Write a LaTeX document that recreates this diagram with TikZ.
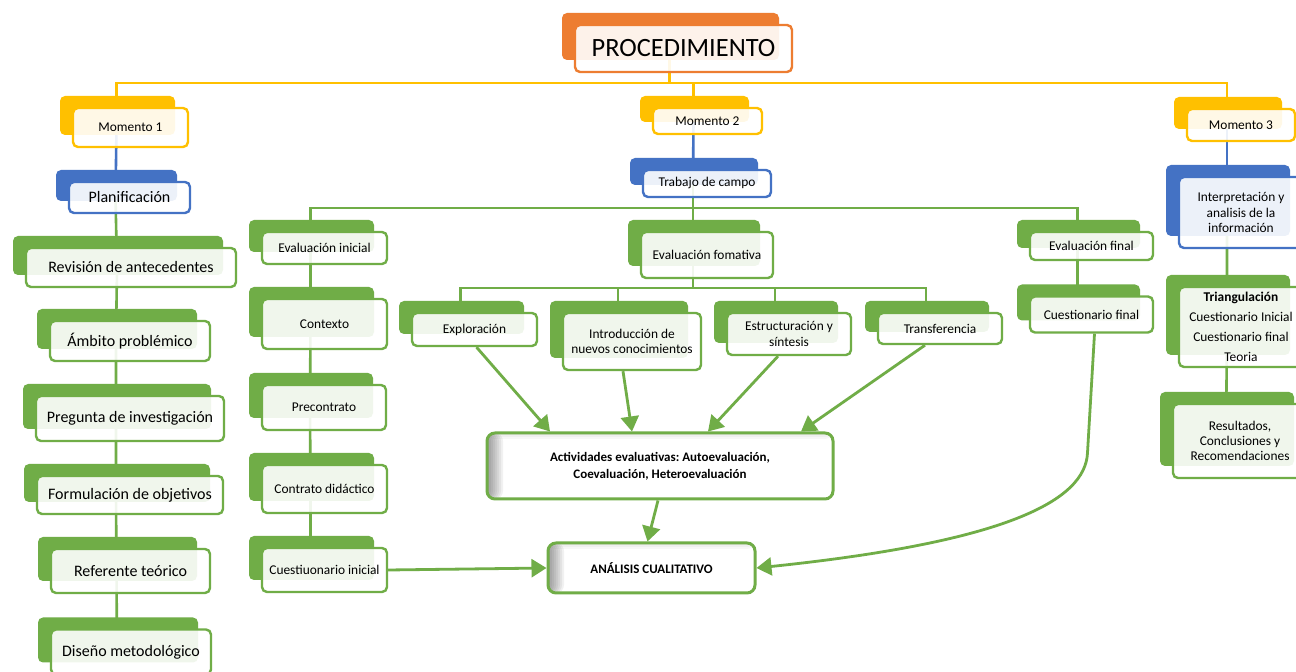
\documentclass[tikz,border=0pt]{standalone}
\usepackage{fontspec}
\setmainfont{Carlito}
\usetikzlibrary{arrows.meta,shadows,backgrounds}
\definecolor{orangeo}{HTML}{ED7D31}
\definecolor{goldo}{HTML}{FFC000}
\definecolor{blueo}{HTML}{4472C4}
\definecolor{greeno}{HTML}{70AD47}
\tikzset{
  tag/.style={draw=#1, line width=1.2pt, rounded corners=2.5pt, fill=white, fill opacity=0.9,
    text opacity=1, align=center, inner sep=1pt,
    copy shadow={shadow xshift=-6.5pt, shadow yshift=6pt, fill=#1, draw=none, fill opacity=1}},
  small/.style={font=\fontsize{6.7}{7.6}\selectfont},
  big/.style={font=\fontsize{8}{9.5}\selectfont},
  link/.style={draw=#1, line width=1.3pt},
  arr/.style={draw=greeno, line width=1.4pt, -{Triangle[length=7.5pt,width=9pt]}},
  sumbox/.style={draw=greeno, line width=1.5pt, rounded corners=4pt, fill=white, align=center,
    font=\frenchspacing\bfseries\fontsize{6.5}{8.5}\selectfont,
    path picture={
      \foreach \i in {1,...,8}
        \fill [black, opacity=0.055] (path picture bounding box.north west) rectangle ([xshift=\i pt]path picture bounding box.south west);
      \foreach \i in {1,...,3}
        \fill [black, opacity=0.03] (path picture bounding box.north west) rectangle ([yshift=-\i pt]path picture bounding box.north east);
    }}
}
\begin{document}
\begin{tikzpicture}[x=0.5pt, y=-0.5pt]
  \useasboundingbox (0,0) rectangle (1296,672);
  \clip (0,0) rectangle (1296,672);

  \node [tag=orangeo, font=\fontsize{13.2}{15}\selectfont, minimum width=108.5pt, minimum height=23.5pt] (proc) at (683.5,48.5) {PROCEDIMIENTO};

  \node [tag=goldo, small, minimum width=57.5pt, minimum height=19.5pt] (m1) at (130.5,127.5) {Momento 1};
  \node [tag=goldo, small, minimum width=54.5pt, minimum height=13pt] (m2) at (707.5,121) {Momento 2};
  \node [tag=goldo, small, minimum width=54pt, minimum height=16pt] (m3) at (1241,125) {Momento 3};

  \node [tag=blueo, big, minimum width=60.5pt, minimum height=15.5pt] (plan) at (129.5,197.5) {Planificación};
  \node [tag=blueo, small, minimum width=64pt, minimum height=13.5pt] (campo) at (707,183.5) {Trabajo de campo};
  \node [tag=blueo, small, minimum width=62pt, minimum height=35.5pt] (interp) at (1241,212.5) {Interpretación y\\analisis de la\\información};

  \node [tag=greeno, big, minimum width=105pt, minimum height=19.5pt] (revis) at (131,267.5) {Revisión de antecedentes};
  \node [tag=greeno, big, minimum width=80pt, minimum height=20pt] (ambito) at (130,341) {Ámbito problémico};
  \node [tag=greeno, big, minimum width=94pt, minimum height=22.5pt] (preg) at (130,418.5) {Pregunta de investigación};
  \node [tag=greeno, big, minimum width=93pt, minimum height=19pt] (formul) at (130,495) {Formulación de objetivos};
  \node [tag=greeno, big, minimum width=79.5pt, minimum height=22pt] (refer) at (130.5,571) {Referente teórico};
  \node [tag=greeno, big, minimum width=80pt, minimum height=22.5pt] (diseno) at (131,652) {Diseño metodológico};

  \node [tag=greeno, small, minimum width=62.5pt, minimum height=16pt] (ein) at (324.5,248) {Evaluación inicial};
  \node [tag=greeno, small, minimum width=62.5pt, minimum height=25pt] (ctx) at (324.5,324) {Contexto};
  \node [tag=greeno, small, minimum width=62pt, minimum height=22.5pt] (pre) at (324,407.5) {Precontrato};
  \node [tag=greeno, small, minimum width=62.5pt, minimum height=24pt] (cdid) at (324.5,489) {Contrato didáctico};
  \node [tag=greeno, small, minimum width=62.5pt, minimum height=22pt] (cini) at (324.5,570) {Cuestiuonario inicial};

  \node [tag=greeno, small, minimum width=66pt, minimum height=23pt] (efo) at (707,255) {Evaluación fomativa};
  \node [tag=greeno, small, minimum width=62.5pt, minimum height=16.5pt] (expl) at (474.5,329.5) {Exploración};
  \node [tag=greeno, small, minimum width=69pt, minimum height=28.5pt] (intro) at (632,341.5) {Introducción de\\nuevos conocimientos};
  \node [tag=greeno, small, minimum width=62pt, minimum height=21pt] (estr) at (789,334) {Estructuración y\\síntesis};
  \node [tag=greeno, small, minimum width=62pt, minimum height=15.5pt] (trans) at (940,328.5) {Transferencia};

  \node [tag=greeno, small, minimum width=61.5pt, minimum height=14pt] (efin) at (1091.5,246) {Evaluación final};
  \node [tag=greeno, small, minimum width=61.5pt, minimum height=18pt] (cfin) at (1091.5,314.5) {Cuestionario final};

  \node [tag=greeno, font=\fontsize{6.7}{10}\selectfont, minimum width=62pt, minimum height=40pt] (triang) at (1241,327) {\textbf{Triangulación}\\Cuestionario Inicial\\Cuestionario final\\Teoria};
  \node [tag=greeno, small, minimum width=67pt, minimum height=37pt] (result) at (1240,441) {Resultados,\\Conclusiones y\\Recomendaciones};

  \node [sumbox, minimum width=173pt, minimum height=33pt] (act) at (660,466) {Actividades evaluativas: Autoevaluación,\\Coevaluación, Heteroevaluación};
  \node [sumbox, minimum width=103.5pt, minimum height=25pt] (anal) at (651.5,568) {ANÁLISIS CUALITATIVO};

  \begin{scope}[on background layer]
    \fill [white] (0,0) rectangle (1296,672);
    \coordinate (ybus) at (0,83);
    \coordinate (gbus) at (0,208);
    \coordinate (fbus) at (0,288);
    \draw [link=goldo] ([xshift=-7pt]proc.center) -- ([xshift=-7pt]proc.center |- ybus);
    \draw [link=goldo] ([xshift=-7pt]m1.center) |- ([xshift=-7pt]m3.center |- ybus) -- ([xshift=-7pt]m3.center);
    \draw [link=goldo] ([xshift=-7pt]m2.center) -- ([xshift=-7pt]m2.center |- ybus);

    \draw [link=blueo] ([xshift=-7pt]m1.center) -- ([xshift=-7pt]plan.center);
    \draw [link=blueo] ([xshift=-7pt]m2.center) -- ([xshift=-7pt]campo.center);
    \draw [link=blueo] ([xshift=-7pt]m3.center) -- ([xshift=-7pt]interp.center);

    \draw [link=greeno] ([xshift=-7pt]plan.center) -- ([xshift=-7pt]revis.center) -- ([xshift=-7pt]ambito.center)
      -- ([xshift=-7pt]preg.center) -- ([xshift=-7pt]formul.center) -- ([xshift=-7pt]refer.center) -- ([xshift=-7pt]diseno.center);

    \draw [link=greeno] ([xshift=-7pt]ein.center) |- ([xshift=-7pt]efin.center |- gbus) -- ([xshift=-7pt]efin.center);
    \draw [link=greeno] ([xshift=-7pt]campo.center) -- ([xshift=-7pt]efo.center);
    \draw [link=greeno] ([xshift=-7pt]ein.center) -- ([xshift=-7pt]ctx.center) -- ([xshift=-7pt]pre.center)
      -- ([xshift=-7pt]cdid.center) -- ([xshift=-7pt]cini.center);
    \draw [link=greeno] ([xshift=-7pt]efin.center) -- ([xshift=-7pt]cfin.center);

    \draw [link=greeno] ([xshift=-7pt]expl.center) |- ([xshift=-7pt]trans.center |- fbus) -- ([xshift=-7pt]trans.center);
    \draw [link=greeno] ([xshift=-7pt]efo.center) -- ([xshift=-7pt]efo.center |- fbus);
    \draw [link=greeno] ([xshift=-7pt]intro.center) -- ([xshift=-7pt]intro.center |- fbus);
    \draw [link=greeno] ([xshift=-7pt]estr.center) -- ([xshift=-7pt]estr.center |- fbus);

    \draw [link=greeno] ([xshift=-7pt]interp.center) -- ([xshift=-7pt]triang.center) -- ([xshift=-7pt]result.center);
  \end{scope}

  \draw [arr] ([xshift=1pt]expl.south) -- ([xshift=-55pt]act.north);
  \draw [arr] ([xshift=-4.5pt]intro.south) -- ([xshift=-14pt]act.north);
  \draw [arr] ([xshift=-5.5pt]estr.south) -- ([xshift=24pt]act.north);
  \draw [arr] ([xshift=-7.5pt]trans.south) -- ([xshift=70.5pt]act.north);
  \draw [arr] ([xshift=-1pt]act.south) -- ([xshift=-2pt]anal.north);
  \draw [arr] (cini.east) -- (anal.west);
  \draw [arr] ([xshift=1.5pt]cfin.south) -- ++(-7,119) .. controls +(-2,48) and +(250,-26) .. (anal.east);
\end{tikzpicture}
\end{document}
